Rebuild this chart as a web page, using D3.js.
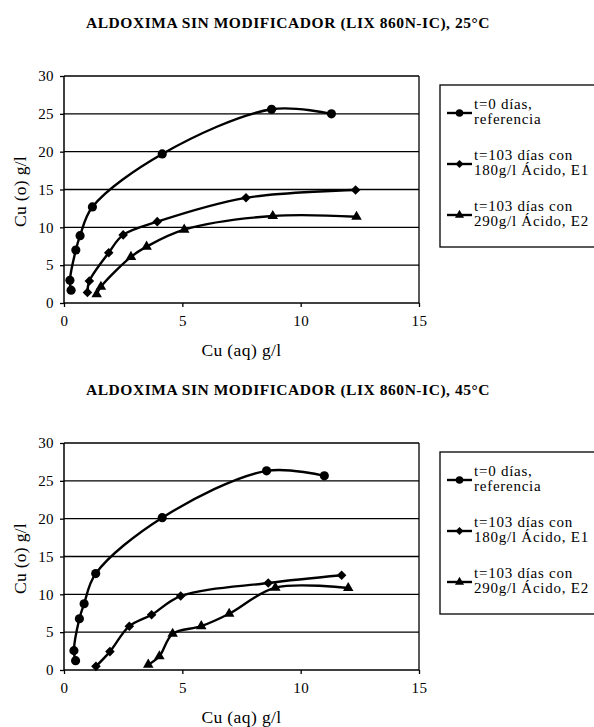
<!DOCTYPE html>
<html>
<head>
<meta charset="utf-8">
<script src="https://cdn.jsdelivr.net/npm/d3@7"></script>
<style>
body { margin: 0; background: #fff; }
text { font-family: "Liberation Serif", serif; fill: #000; }
</style>
</head>
<body>
<svg id="chart" width="594" height="727"></svg>
<script>
// Chart values
var titles = ["ALDOXIMA SIN MODIFICADOR (LIX 860N-IC), 25°C",
              "ALDOXIMA SIN MODIFICADOR (LIX 860N-IC), 45°C"];
var xTicks = [0, 5, 10, 15];
var yTicks = [0, 5, 10, 15, 20, 25, 30];
var xLabel = "Cu (aq) g/l";
var yLabel = "Cu (o) g/l";
var legendLines = [["t=0 días,", "referencia"],
                   ["t=103 días con", "180g/l Ácido, E1"],
                   ["t=103 días con", "290g/l Ácido, E2"]];

// 25 C
var ref25X = [0.3, 0.25, 0.5, 0.68, 1.2, 4.15, 8.77, 11.3];
var ref25Y = [1.7, 3.0, 7.0, 8.9, 12.7, 19.7, 25.6, 25.0];
var e1_25X = [0.99, 1.07, 1.89, 2.5, 3.94, 7.69, 12.32];
var e1_25Y = [1.4, 2.9, 6.65, 9.0, 10.75, 13.9, 14.93];
var e2_25X = [1.38, 1.56, 2.83, 3.49, 5.08, 8.82, 12.36];
var e2_25Y = [1.15, 2.15, 6.1, 7.45, 9.7, 11.5, 11.4];

// 45 C
var ref45X = [0.49, 0.42, 0.65, 0.85, 1.34, 4.15, 8.56, 11.0];
var ref45Y = [1.23, 2.56, 6.77, 8.76, 12.74, 20.13, 26.32, 25.66];
var e1_45X = [1.35, 1.94, 2.76, 3.7, 4.93, 8.63, 11.73];
var e1_45Y = [0.48, 2.43, 5.79, 7.3, 9.77, 11.5, 12.52];
var e2_45X = [3.56, 4.03, 4.59, 5.8, 6.98, 8.93, 12.01];
var e2_45Y = [0.7, 1.81, 4.78, 5.79, 7.43, 10.88, 10.83];

var svg = d3.select("#chart");

// Marker shapes, one per series (square turned 45 deg is the diamond)
var symbolTypes = [d3.symbolCircle, d3.symbolSquare, d3.symbolTriangle];
var symbolRot = [0, 45, 0];

function zip(xs, ys) {
	return xs.map(function(x, i) { return [x, ys[i]]; });
}

function drawPanel(top, title, series)
{
	var left = 64, right = 419, height = 227;
	var g = svg.append("g").attr("transform", "translate(0," + top + ")");

	var x = d3.scaleLinear().domain([0, 15]).range([left, right]);
	var y = d3.scaleLinear().domain([0, 30]).range([height, 0]);

	g.append("text")
		.attr("x", 288).attr("y", -48)
		.attr("text-anchor", "middle")
		.style("font-weight", "bold")
		.style("font-size", "15.5px")
		.style("letter-spacing", "0.55px")
		.text(title);

	// horizontal grid
	g.selectAll(".grid").data(yTicks.slice(1)).enter()
		.append("line")
		.attr("x1", left).attr("x2", right)
		.attr("y1", function(d) { return y(d); })
		.attr("y2", function(d) { return y(d); })
		.attr("stroke", "#000").attr("stroke-width", 1.3);

	// right border
	g.append("line")
		.attr("x1", right).attr("x2", right)
		.attr("y1", 0).attr("y2", height)
		.attr("stroke", "#000").attr("stroke-width", 1.3);

	var xAxis = g.append("g")
		.attr("transform", "translate(0," + height + ")")
		.call(d3.axisBottom(x).tickValues(xTicks).tickSize(4).tickPadding(8));
	var yAxis = g.append("g")
		.attr("transform", "translate(" + left + ",0)")
		.call(d3.axisLeft(y).tickValues(yTicks).tickSize(4).tickPadding(6));

	[xAxis, yAxis].forEach(function(a) {
		a.select(".domain").attr("stroke-width", 1.5);
		a.selectAll(".tick line").attr("stroke-width", 1.3);
		a.selectAll("text")
			.style("font-family", "Liberation Serif")
			.style("font-size", "15px")
			.style("letter-spacing", "0.4px");
	});
	xAxis.select(".domain").attr("d", "M" + left + ",0H" + right);
	yAxis.select(".domain").attr("d", "M0," + height + "V0");

	g.append("text")
		.attr("x", (left + right) / 2).attr("y", height + 53)
		.attr("text-anchor", "middle")
		.style("font-size", "17.5px")
		.style("letter-spacing", "0.4px")
		.text(xLabel);

	g.append("text")
		.attr("transform", "translate(26," + (height / 2 + 2) + ") rotate(-90)")
		.attr("text-anchor", "middle")
		.style("font-size", "17.5px")
		.style("letter-spacing", "0.3px")
		.text(yLabel);

	// smoothed lines like the spreadsheet ones
	var line = d3.line()
		.x(function(d) { return x(d[0]); })
		.y(function(d) { return y(d[1]); })
		.curve(d3.curveCatmullRom.alpha(0.5));

	series.forEach(function(s, k) {
		g.append("path")
			.attr("d", line(s))
			.attr("fill", "none")
			.attr("stroke", "#000")
			.attr("stroke-width", 2.4);
		g.selectAll(".m" + k).data(s).enter()
			.append("path")
			.attr("d", d3.symbol().type(symbolTypes[k]).size([66, 46, 48][k]))
			.attr("transform", function(d) {
				return "translate(" + x(d[0]) + "," + y(d[1]) + ") rotate(" + symbolRot[k] + ")";
			})
			.attr("fill", "#000");
	});

	// legend box, runs off the right edge as in the picture
	var lg = g.append("g").attr("transform", "translate(440,9)");
	lg.append("rect")
		.attr("x", 0).attr("y", 0)
		.attr("width", 180).attr("height", 162)
		.attr("fill", "none").attr("stroke", "#000").attr("stroke-width", 1.3);

	legendLines.forEach(function(lines, k) {
		var cy = 28 + k * 51;
		lg.append("line")
			.attr("x1", 7).attr("x2", 32)
			.attr("y1", cy).attr("y2", cy)
			.attr("stroke", "#000").attr("stroke-width", 2.4);
		lg.append("path")
			.attr("d", d3.symbol().type(symbolTypes[k]).size([45, 32, 36][k]))
			.attr("transform", "translate(19.5," + cy + ") rotate(" + symbolRot[k] + ")")
			.attr("fill", "#000");
		lines.forEach(function(t, j) {
			lg.append("text")
				.attr("x", 34)
				.attr("y", cy - 4 + j * 15)
				.style("font-size", "15px")
				.style("letter-spacing", "0.75px")
				.text(t);
		});
	});
}

drawPanel(76, titles[0], [zip(ref25X, ref25Y), zip(e1_25X, e1_25Y), zip(e2_25X, e2_25Y)]);
drawPanel(443, titles[1], [zip(ref45X, ref45Y), zip(e1_45X, e1_45Y), zip(e2_45X, e2_45Y)]);
</script>
</body>
</html>
